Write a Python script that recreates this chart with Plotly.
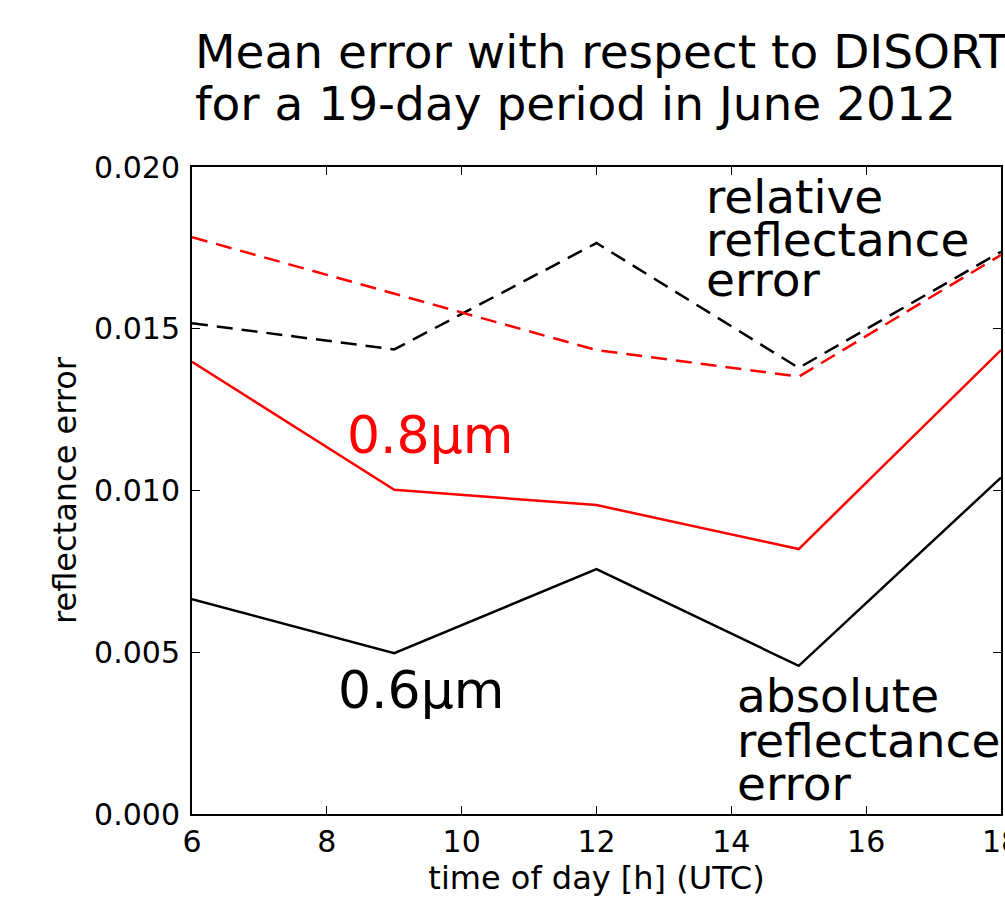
import plotly.graph_objects as go

hours = [6, 9, 12, 15, 18]
abs_err_06 = [0.00664, 0.00497, 0.00757, 0.00458, 0.01040]
abs_err_08 = [0.01398, 0.01002, 0.00955, 0.00819, 0.01434]
rel_err_06 = [0.01517, 0.01436, 0.01765, 0.01379, 0.01738]
rel_err_08 = [0.01783, 0.01608, 0.01434, 0.01352, 0.01728]

title_lines = ["Mean error with respect to DISORT", "for a 19-day period in June 2012"]
rel_label = ["relative", "reflectance", "error"]
abs_label = ["absolute", "reflectance", "error"]

W, H = 1005, 900
L, R, T, B = 192, 1001, 167, 814
FONT = "DejaVu Sans"

def px(p):
    return (p - L) / (R - L)

def py(p):
    return (B - p) / (B - T)

fig = go.Figure()
fig.add_trace(go.Scatter(x=hours, y=rel_err_06, mode="lines",
                         line=dict(color="black", width=2.5, dash="16px,9px")))
fig.add_trace(go.Scatter(x=hours, y=rel_err_08, mode="lines",
                         line=dict(color="red", width=2.5, dash="16px,9px")))
fig.add_trace(go.Scatter(x=hours, y=abs_err_08, mode="lines",
                         line=dict(color="red", width=2.5)))
fig.add_trace(go.Scatter(x=hours, y=abs_err_06, mode="lines",
                         line=dict(color="black", width=2.5)))

ann = []
def text(s, x, baseline, size, color="black"):
    ann.append(dict(text=s, xref="paper", yref="paper", x=px(x), y=py(baseline - 0.35 * size),
                    xanchor="left", yanchor="middle", showarrow=False,
                    font=dict(family=FONT, size=size, color=color)))

text(title_lines[0], 193, 68, 47)
text(title_lines[1], 193, 120, 47)
for s, b in zip(rel_label, [213, 256, 296]):
    text(s, 704, b, 47)
for s, b in zip(abs_label, [712, 757, 800]):
    text(s, 735, b, 47)
text("0.8μm", 345, 453, 52, "red")
text("0.6μm", 336, 708, 52, "black")

fig.update_layout(
    width=W, height=H,
    margin=dict(l=L, r=W - R, t=T, b=H - B, pad=0),
    paper_bgcolor="white", plot_bgcolor="white",
    showlegend=False,
    annotations=ann,
    font=dict(family=FONT, color="black"),
)
fig.update_xaxes(range=[6, 18], dtick=2, tick0=6, showgrid=False, zeroline=False,
                 showline=True, linecolor="black", linewidth=2, mirror="ticks",
                 ticks="inside", ticklen=8, tickwidth=1, tickcolor="black",
                 ticklabeloverflow="allow", automargin=False,
                 tickfont=dict(family=FONT, size=30),
                 title=dict(text="time of day [h] (UTC)", font=dict(family=FONT, size=32), standoff=8))
fig.update_yaxes(range=[0, 0.02], dtick=0.005, tick0=0, tickformat=".3f", showgrid=False, zeroline=False,
                 showline=True, linecolor="black", linewidth=2, mirror="ticks",
                 ticks="inside", ticklen=8, tickwidth=1, tickcolor="black",
                 ticklabelstandoff=4, automargin=False,
                 tickfont=dict(family=FONT, size=30),
                 title=dict(text="reflectance error", font=dict(family=FONT, size=32), standoff=8))

fig.write_html("out.html")
